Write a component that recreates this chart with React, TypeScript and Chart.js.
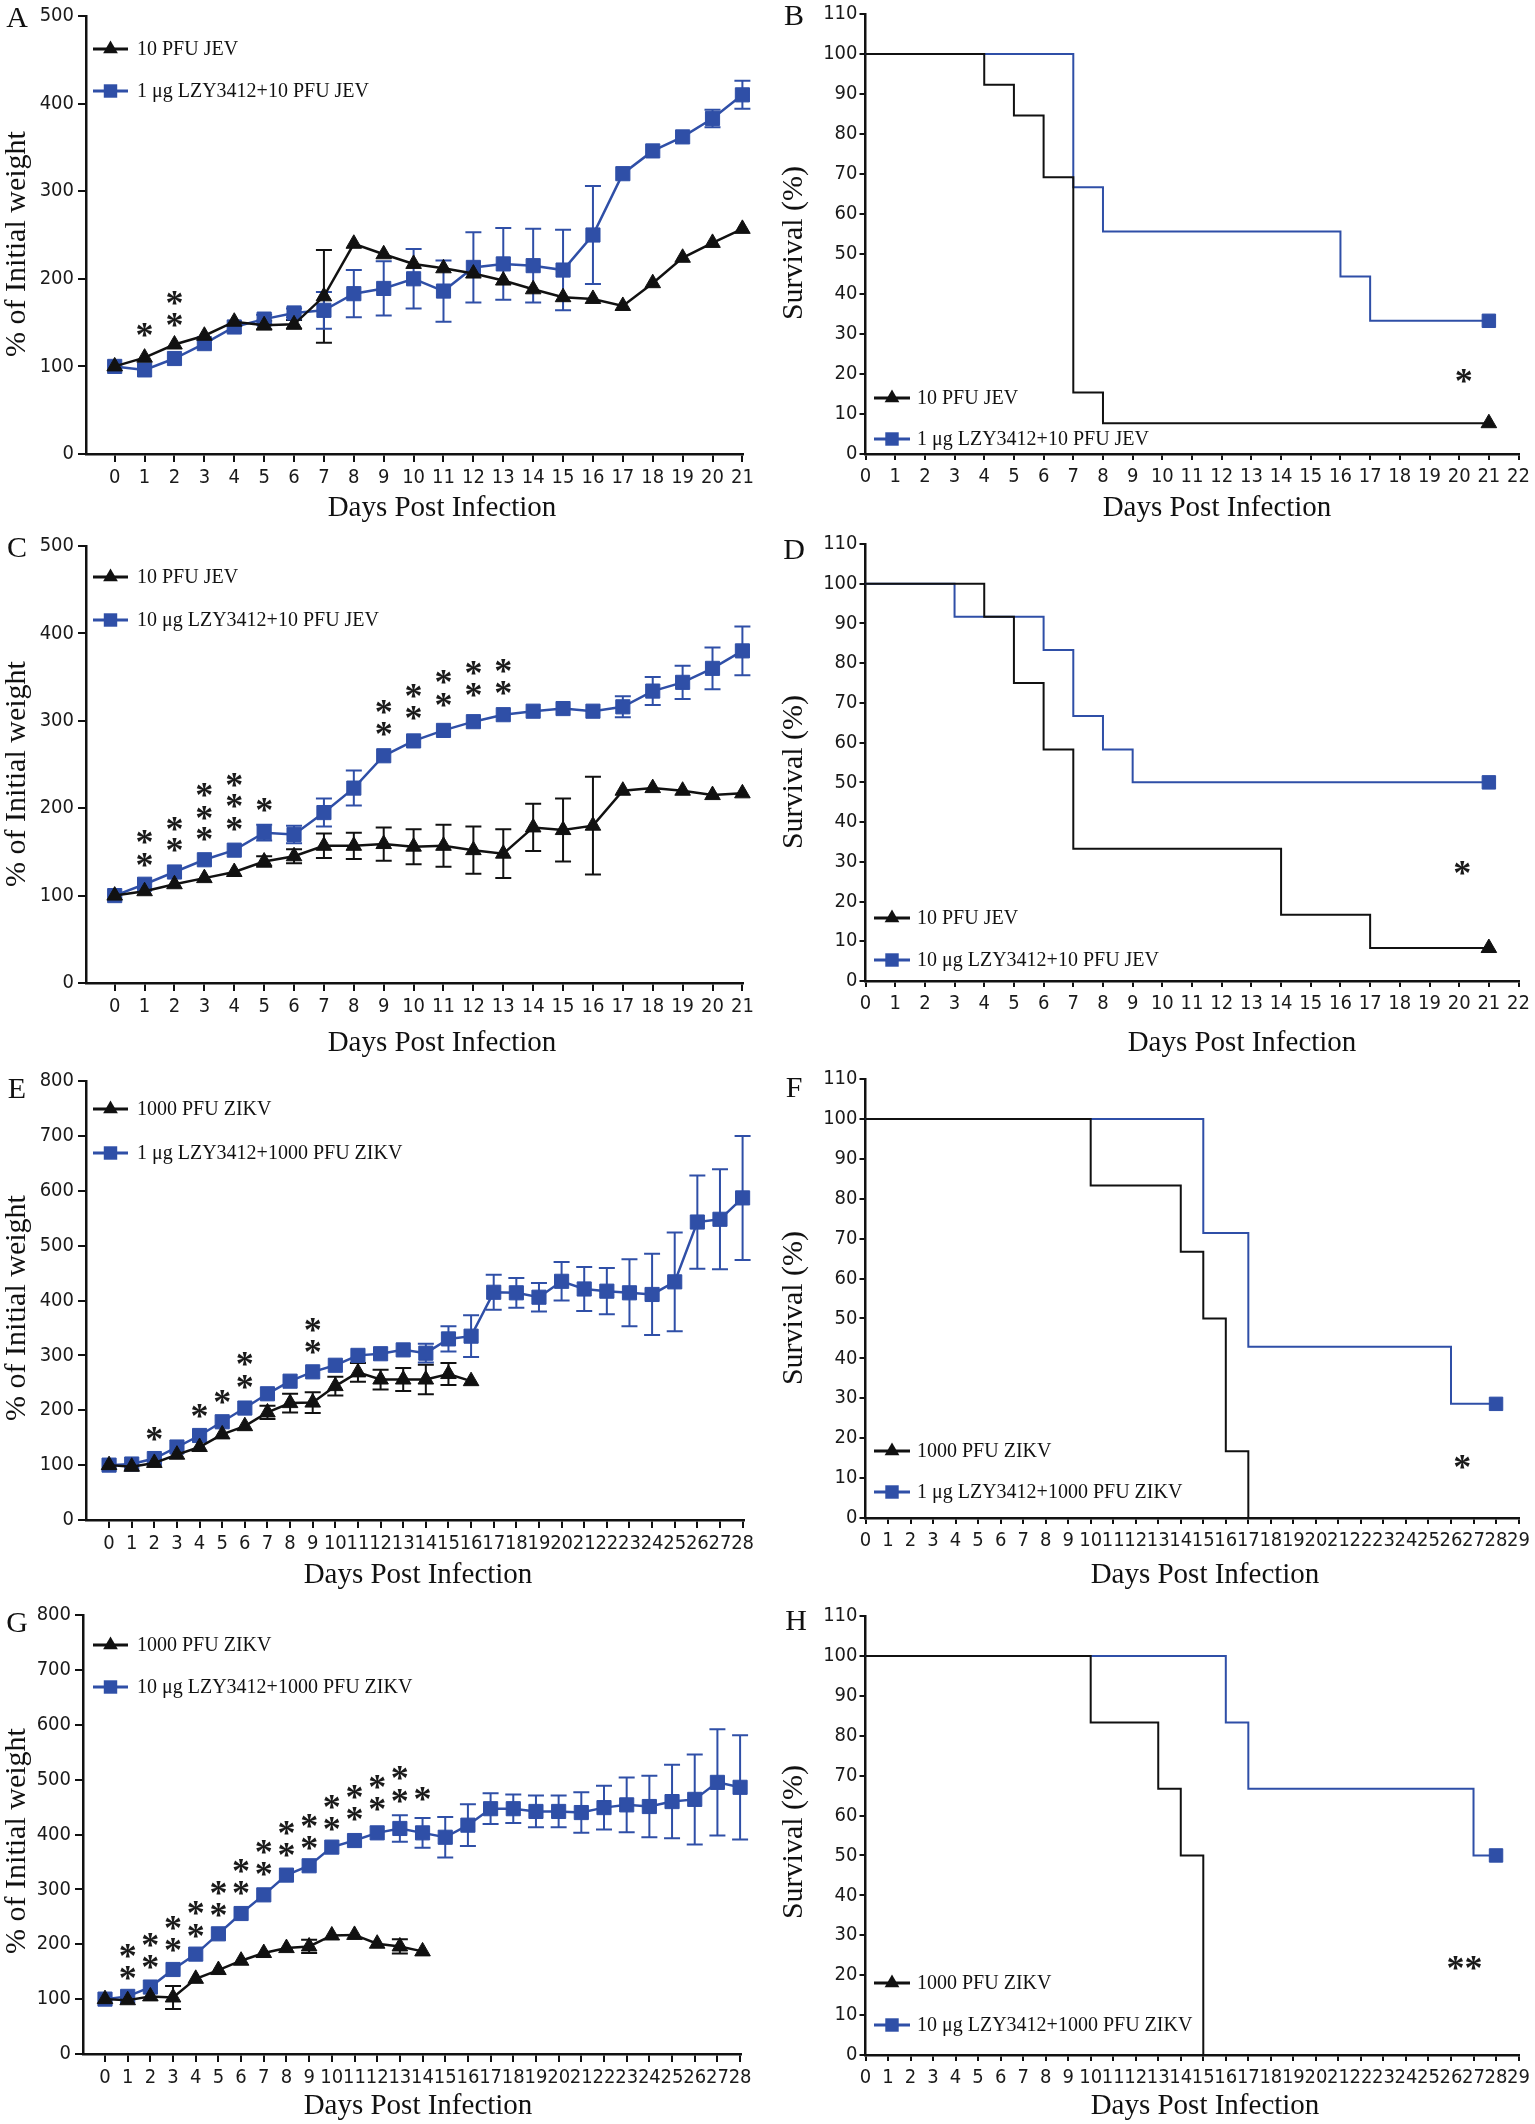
import React, { useEffect, useRef } from 'react';
import { Chart, registerables } from 'chart.js';

Chart.register(...registerables);

const BLACK = '#111111';
const BLUE = '#2f4fa7';
const SERIF = "'Liberation Serif', 'Times New Roman', serif";
const NARROW = "'Liberation Sans Narrow', 'Arial Narrow', 'DejaVu Sans Condensed', 'Liberation Sans', sans-serif";

// ---------- categories / tick labels ----------
const daysJEV = [0, 1, 2, 3, 4, 5, 6, 7, 8, 9, 10, 11, 12, 13, 14, 15, 16, 17, 18, 19, 20, 21];
const daysZIKV = [0, 1, 2, 3, 4, 5, 6, 7, 8, 9, 10, 11, 12, 13, 14, 15, 16, 17, 18, 19, 20, 21, 22, 23, 24, 25, 26, 27, 28];
const survTicksJEV = [0, 1, 2, 3, 4, 5, 6, 7, 8, 9, 10, 11, 12, 13, 14, 15, 16, 17, 18, 19, 20, 21, 22];
const survTicksZIKV = [0, 1, 2, 3, 4, 5, 6, 7, 8, 9, 10, 11, 12, 13, 14, 15, 16, 17, 18, 19, 20, 21, 22, 23, 24, 25, 26, 27, 28, 29];

// ---------- legend labels ----------
const lblJEV = '10 PFU JEV';
const lblJEV1 = '1 μg LZY3412+10 PFU JEV';
const lblJEV10 = '10 μg LZY3412+10 PFU JEV';
const lblZIKV = '1000 PFU ZIKV';
const lblZIKV1 = '1 μg LZY3412+1000 PFU ZIKV';
const lblZIKV10 = '10 μg LZY3412+1000 PFU ZIKV';

// ---------- Panel A : weight, 1 µg, JEV ----------
const weightA_jev = [100, 110, 125, 135, 151, 147, 148, 180, 240, 228, 217, 212, 206, 198, 188, 179, 177, 169, 195, 224, 241, 257];
const errA_jev = [null, null, null, null, null, 5, 5, 53, null, null, null, null, null, null, null, null, null, null, null, null, null, null];
const weightA_lzy = [100, 96, 109, 126, 145, 154, 161, 164, 183, 189, 200, 186, 213, 217, 215, 210, 250, 320, 346, 362, 383, 410];
const errA_lzy = [null, null, null, null, null, 5, 5, 21, 27, 31, 34, 35, 40, 41, 42, 46, 56, null, null, null, 10, 16];
const sigA = [[1, 141], [2, 153], [2, 178]];

// ---------- Panel B : survival, 1 µg, JEV ----------
const survB_jev_t = [0, 4, 5, 6, 7, 8, 21];
const survB_jev = [100, 92.3, 84.6, 69.2, 15.4, 7.7, 7.7];
const survB_lzy_t = [0, 7, 8, 16, 17, 21];
const survB_lzy = [100, 66.7, 55.6, 44.4, 33.3, 33.3];
const sigB = [[20.15, 19.6]];

// ---------- Panel C : weight, 10 µg, JEV ----------
const weightC_jev = [100, 105, 113, 120, 127, 139, 145, 157, 157, 159, 156, 157, 152, 148, 178, 175, 180, 220, 223, 220, 215, 217];
const errC_jev = [null, null, null, null, null, 6, 8, 14, 15, 19, 20, 24, 27, 28, 27, 36, 56, null, null, null, null, null];
const weightC_lzy = [100, 113, 127, 141, 152, 172, 170, 195, 223, 260, 277, 289, 299, 307, 311, 314, 311, 316, 334, 344, 360, 380];
const errC_lzy = [null, null, null, null, null, 9, 10, 16, 20, null, null, null, null, null, null, null, null, 12, 16, 19, 24, 28];
const sigC = [[1, 141], [1, 167], [2, 158], [2, 182], [3, 170], [3, 194], [3, 221], [4, 182], [4, 208], [4, 232], [5, 204],
  [9, 291], [9, 316], [10, 309], [10, 334], [11, 324], [11, 350], [12, 335], [12, 360], [13, 337], [13, 363]];

// ---------- Panel D : survival, 10 µg, JEV ----------
const survD_jev_t = [0, 4, 5, 6, 7, 14, 17, 21];
const survD_jev = [100, 91.7, 75, 58.3, 33.3, 16.7, 8.3, 8.3];
const survD_lzy_t = [0, 3, 6, 7, 8, 9, 21];
const survD_lzy = [100, 91.7, 83.3, 66.7, 58.3, 50, 50];
const sigD = [[20.1, 28.4]];

// ---------- Panel E : weight, 1 µg, ZIKV ----------
const weightE_zikv = [100, 97, 104, 119, 133, 156, 171, 196, 213, 214, 244, 269, 256, 256, 256, 266, 253];
const errE_zikv = [null, null, null, null, null, null, null, 12, 17, 19, 17, 17, 18, 21, 27, 20, null];
const weightE_lzy = [100, 102, 112, 133, 154, 179, 204, 230, 253, 270, 282, 300, 303, 310, 304, 330, 335, 415, 414, 406, 435, 421, 417, 414, 411, 434, 543, 548, 587];
const errE_lzy = [null, null, null, null, null, null, null, null, null, null, null, null, null, null, 17, 23, 38, 32, 27, 26, 35, 40, 42, 61, 74, 90, 85, 91, 113];
const sigE = [[2, 157], [4, 198], [5, 224], [6, 251], [6, 293], [9, 316], [9, 356]];

// ---------- Panel F : survival, 1 µg, ZIKV ----------
const survF_zikv_t = [0, 10, 14, 15, 16, 17];
const survF_zikv = [100, 83.3, 66.7, 50, 16.7, 0];
const survF_lzy_t = [0, 15, 17, 26, 28];
const survF_lzy = [100, 71.4, 42.9, 28.6, 28.6];
const sigF = [[26.5, 14]];

// ---------- Panel G : weight, 10 µg, ZIKV ----------
const weightG_zikv = [100, 98, 105, 103, 137, 153, 170, 184, 193, 196, 216, 217, 201, 196, 187];
const errG_zikv = [null, null, null, 21, null, null, null, null, null, 12, null, null, null, 13, null];
const weightG_lzy = [100, 105, 122, 154, 182, 219, 256, 290, 326, 343, 377, 389, 403, 411, 403, 395, 417, 447, 447, 442, 442, 440, 449, 454, 451, 460, 464, 495, 486];
const errG_lzy = [null, null, null, null, null, null, null, null, null, null, null, null, null, 24, 27, 37, 38, 28, 26, 29, 29, 37, 40, 50, 56, 67, 82, 97, 95];
const sigG = [[1, 148], [1, 188], [2, 167], [2, 207], [3, 199], [3, 239], [4, 225], [4, 266], [5, 263], [5, 303], [6, 303], [6, 343],
  [7, 337], [7, 377], [8, 372], [8, 412], [9, 384], [9, 424], [10, 419], [10, 460], [11, 438], [11, 477], [12, 455], [12, 495],
  [13, 471], [13, 512], [14, 473]];

// ---------- Panel H : survival, 10 µg, ZIKV ----------
const survH_zikv_t = [0, 10, 13, 14, 15];
const survH_zikv = [100, 83.3, 66.7, 50, 0];
const survH_lzy_t = [0, 16, 17, 27, 28];
const survH_lzy = [100, 83.3, 66.7, 50, 50];
const sigH = [[26.6, 23]];

// ---------- types ----------
type Series = {
  label: string;
  color: string;
  marker: 'triangle' | 'rect';
  x: number[];
  y: number[];
  err?: (number | null)[];
  stepped?: boolean;
  endMarker?: boolean;
  lineWidth: number;
  radius: number;
};
type PanelCfg = {
  canvas: { x: number; y: number; w: number; h: number };
  area: { l: number; t: number; r: number; b: number };
  xMin: number; xMax: number; xTicks: number[];
  yMax: number; yStep: number;
  tickLen: number; yPad: number; xPad: number;
  series: Series[];
  letter: { text: string; x: number; y: number };
  yTitle: { text: string; x: number; y: number };
  xTitle: { text: string; x: number; y: number };
  legend: { rows: number[]; lx0: number; lx1: number; tx: number };
  stars: number[][];
  starText: string;
};

function weightSeries(lblA: string, xa: number[], ya: number[], ea: (number | null)[], lblB: string, yb: number[], eb: (number | null)[], xb: number[]): Series[] {
  return [
    { label: lblA, color: BLACK, marker: 'triangle', x: xa.slice(0, ya.length), y: ya, err: ea, lineWidth: 2.5, radius: 9 },
    { label: lblB, color: BLUE, marker: 'rect', x: xb.slice(0, yb.length), y: yb, err: eb, lineWidth: 2.5, radius: 10 },
  ];
}
function survSeries(lblA: string, ta: number[], sa: number[], endA: boolean, lblB: string, tb: number[], sb: number[]): Series[] {
  return [
    { label: lblA, color: BLACK, marker: 'triangle', x: ta, y: sa, stepped: true, endMarker: endA, lineWidth: 2, radius: 9 },
    { label: lblB, color: BLUE, marker: 'rect', x: tb, y: sb, stepped: true, endMarker: true, lineWidth: 2, radius: 9.5 },
  ];
}

const W_TITLE = '% of Initial weight';
const S_TITLE = 'Survival (%)';
const X_TITLE = 'Days Post Infection';
const leftLegend = (r1: number, r2: number) => ({ rows: [r1, r2], lx0: 93, lx1: 128, tx: 137 });
const rightLegend = (r1: number, r2: number) => ({ rows: [r1, r2], lx0: 874, lx1: 910, tx: 917 });

const panels: PanelCfg[] = [
  {
    canvas: { x: 0, y: 0, w: 767, h: 530 }, area: { l: 86, t: 14, r: 743, b: 454 },
    xMin: -0.96, xMax: 21.02, xTicks: daysJEV, yMax: 500, yStep: 100, tickLen: 8, yPad: 4, xPad: 4,
    series: weightSeries(lblJEV, daysJEV, weightA_jev, errA_jev, lblJEV1, weightA_lzy, errA_lzy, daysJEV),
    letter: { text: 'A', x: 17, y: 19 }, yTitle: { text: W_TITLE, x: 17, y: 244 }, xTitle: { text: X_TITLE, x: 442, y: 508 },
    legend: leftLegend(49, 91), stars: sigA, starText: '*',
  },
  {
    canvas: { x: 767, y: 0, w: 768, h: 530 }, area: { l: 865.5, t: 14, r: 1522.7, b: 454 },
    xMin: 0, xMax: 22, xTicks: survTicksJEV, yMax: 110, yStep: 10, tickLen: 6, yPad: 2, xPad: 5,
    series: survSeries(lblJEV, survB_jev_t, survB_jev, true, lblJEV1, survB_lzy_t, survB_lzy),
    letter: { text: 'B', x: 794, y: 17 }, yTitle: { text: S_TITLE, x: 794, y: 243 }, xTitle: { text: X_TITLE, x: 1217, y: 508 },
    legend: rightLegend(398, 439), stars: sigB, starText: '*',
  },
  {
    canvas: { x: 0, y: 530, w: 767, h: 535 }, area: { l: 86, t: 544, r: 743, b: 983 },
    xMin: -0.96, xMax: 21.02, xTicks: daysJEV, yMax: 500, yStep: 100, tickLen: 8, yPad: 4, xPad: 4,
    series: weightSeries(lblJEV, daysJEV, weightC_jev, errC_jev, lblJEV10, weightC_lzy, errC_lzy, daysJEV),
    letter: { text: 'C', x: 17, y: 549 }, yTitle: { text: W_TITLE, x: 17, y: 774 }, xTitle: { text: X_TITLE, x: 442, y: 1043 },
    legend: leftLegend(577, 620), stars: sigC, starText: '*',
  },
  {
    canvas: { x: 767, y: 530, w: 768, h: 535 }, area: { l: 865.5, t: 542, r: 1522.7, b: 981 },
    xMin: 0, xMax: 22, xTicks: survTicksJEV, yMax: 110, yStep: 10, tickLen: 6, yPad: 2, xPad: 5,
    series: survSeries(lblJEV, survD_jev_t, survD_jev, true, lblJEV10, survD_lzy_t, survD_lzy),
    letter: { text: 'D', x: 794, y: 551 }, yTitle: { text: S_TITLE, x: 794, y: 772 }, xTitle: { text: X_TITLE, x: 1242, y: 1043 },
    legend: rightLegend(918, 960), stars: sigD, starText: '*',
  },
  {
    canvas: { x: 0, y: 1065, w: 767, h: 530 }, area: { l: 86, t: 1080, r: 743.5, b: 1520 },
    xMin: -1.02, xMax: 28.04, xTicks: daysZIKV, yMax: 800, yStep: 100, tickLen: 8, yPad: 4, xPad: 4,
    series: weightSeries(lblZIKV, daysZIKV, weightE_zikv, errE_zikv, lblZIKV1, weightE_lzy, errE_lzy, daysZIKV),
    letter: { text: 'E', x: 17, y: 1090 }, yTitle: { text: W_TITLE, x: 17, y: 1308 }, xTitle: { text: X_TITLE, x: 418, y: 1575 },
    legend: leftLegend(1109, 1153), stars: sigE, starText: '*',
  },
  {
    canvas: { x: 767, y: 1065, w: 768, h: 530 }, area: { l: 865.5, t: 1079, r: 1522.7, b: 1518 },
    xMin: 0, xMax: 29, xTicks: survTicksZIKV, yMax: 110, yStep: 10, tickLen: 6, yPad: 2, xPad: 5,
    series: survSeries(lblZIKV, survF_zikv_t, survF_zikv, false, lblZIKV1, survF_lzy_t, survF_lzy),
    letter: { text: 'F', x: 794, y: 1089 }, yTitle: { text: S_TITLE, x: 794, y: 1308 }, xTitle: { text: X_TITLE, x: 1205, y: 1575 },
    legend: rightLegend(1451, 1492), stars: sigF, starText: '*',
  },
  {
    canvas: { x: 0, y: 1595, w: 767, h: 529 }, area: { l: 83, t: 1615, r: 741, b: 2054 },
    xMin: -0.97, xMax: 28.04, xTicks: daysZIKV, yMax: 800, yStep: 100, tickLen: 8, yPad: 4, xPad: 4,
    series: weightSeries(lblZIKV, daysZIKV, weightG_zikv, errG_zikv, lblZIKV10, weightG_lzy, errG_lzy, daysZIKV),
    letter: { text: 'G', x: 17, y: 1624 }, yTitle: { text: W_TITLE, x: 17, y: 1841 }, xTitle: { text: X_TITLE, x: 418, y: 2106 },
    legend: leftLegend(1645, 1687), stars: sigG, starText: '*',
  },
  {
    canvas: { x: 767, y: 1595, w: 768, h: 529 }, area: { l: 865.5, t: 1616, r: 1522.7, b: 2055 },
    xMin: 0, xMax: 29, xTicks: survTicksZIKV, yMax: 110, yStep: 10, tickLen: 6, yPad: 2, xPad: 5,
    series: survSeries(lblZIKV, survH_zikv_t, survH_zikv, false, lblZIKV10, survH_lzy_t, survH_lzy),
    letter: { text: 'H', x: 796, y: 1622 }, yTitle: { text: S_TITLE, x: 794, y: 1842 }, xTitle: { text: X_TITLE, x: 1205, y: 2106 },
    legend: rightLegend(1983, 2025), stars: sigH, starText: '**',
  },
];

function drawMarker(ctx: CanvasRenderingContext2D, kind: string, x: number, y: number, r: number, color: string) {
  ctx.save();
  ctx.fillStyle = color;
  ctx.beginPath();
  if (kind === 'triangle') {
    ctx.moveTo(x, y - r);
    ctx.lineTo(x + r * 0.866, y + r * 0.5);
    ctx.lineTo(x - r * 0.866, y + r * 0.5);
    ctx.closePath();
  } else {
    const s = r * Math.SQRT1_2;
    ctx.rect(x - s, y - s, 2 * s, 2 * s);
  }
  ctx.fill();
  ctx.restore();
}

function buildConfig(cfg: PanelCfg): any {
  const cv = cfg.canvas;
  const area = cfg.area;
  const lx = (p: number) => p - cv.x;
  const ly = (p: number) => p - cv.y;

  const decor = {
    id: 'decor',
    beforeDatasetsDraw(chart: any) {
      const ctx: CanvasRenderingContext2D = chart.ctx;
      const xs = chart.scales.x;
      const ys = chart.scales.y;
      ctx.save();
      cfg.series.forEach((s) => {
        if (!s.err) return;
        ctx.strokeStyle = s.color;
        ctx.lineWidth = 2;
        s.err.forEach((e, i) => {
          if (e == null || i >= s.y.length) return;
          const px = xs.getPixelForValue(s.x[i]);
          const pt = ys.getPixelForValue(s.y[i] + e);
          const pb = ys.getPixelForValue(s.y[i] - e);
          ctx.beginPath();
          ctx.moveTo(px, pt); ctx.lineTo(px, pb);
          ctx.moveTo(px - 8, pt); ctx.lineTo(px + 8, pt);
          ctx.moveTo(px - 8, pb); ctx.lineTo(px + 8, pb);
          ctx.stroke();
        });
      });
      ctx.restore();
    },
    afterDraw(chart: any) {
      const ctx: CanvasRenderingContext2D = chart.ctx;
      const xs = chart.scales.x;
      const ys = chart.scales.y;
      ctx.save();
      ctx.fillStyle = '#111';
      ctx.textAlign = 'center';
      ctx.textBaseline = 'middle';
      // panel letter
      ctx.font = `30px ${SERIF}`;
      ctx.fillText(cfg.letter.text, lx(cfg.letter.x), ly(cfg.letter.y));
      // x title
      ctx.font = `29px ${SERIF}`;
      ctx.fillText(cfg.xTitle.text, lx(cfg.xTitle.x), ly(cfg.xTitle.y));
      // y title
      ctx.save();
      ctx.translate(lx(cfg.yTitle.x), ly(cfg.yTitle.y));
      ctx.rotate(-Math.PI / 2);
      ctx.font = `30px ${SERIF}`;
      ctx.fillText(cfg.yTitle.text, 0, 0);
      ctx.restore();
      // legend
      cfg.series.forEach((s, i) => {
        const y = ly(cfg.legend.rows[i]);
        ctx.strokeStyle = s.color;
        ctx.lineWidth = 3;
        ctx.beginPath();
        ctx.moveTo(lx(cfg.legend.lx0), y);
        ctx.lineTo(lx(cfg.legend.lx1), y);
        ctx.stroke();
        drawMarker(ctx, s.marker, lx((cfg.legend.lx0 + cfg.legend.lx1) / 2), y, s.marker === 'triangle' ? 8.5 : 9.5, s.color);
        ctx.fillStyle = '#111';
        ctx.textAlign = 'left';
        ctx.font = `20px ${SERIF}`;
        ctx.fillText(s.label, lx(cfg.legend.tx), y + 1);
      });
      // significance stars
      ctx.fillStyle = '#1a1a1a';
      ctx.textAlign = 'center';
      ctx.textBaseline = 'alphabetic';
      ctx.font = `bold 36px ${SERIF}`;
      const m = ctx.measureText(cfg.starText);
      const asc = m.actualBoundingBoxAscent || 20;
      const desc = m.actualBoundingBoxDescent || -8;
      cfg.stars.forEach(([sx, sy]) => {
        const px = xs.getPixelForValue(sx);
        const py = ys.getPixelForValue(sy);
        ctx.fillText(cfg.starText, px, py + (asc - desc) / 2);
      });
      ctx.restore();
    },
  };

  const datasets = cfg.series.map((s) => ({
    label: s.label,
    data: s.x.map((xv, i) => ({ x: xv, y: s.y[i] })),
    borderColor: s.color,
    backgroundColor: s.color,
    borderWidth: s.lineWidth,
    pointStyle: s.marker,
    pointRadius: s.stepped ? s.x.map((_, i) => (i === s.x.length - 1 && s.endMarker ? s.radius : 0)) : s.radius,
    pointBorderWidth: 1,
    pointBorderColor: s.color,
    pointBackgroundColor: s.color,
    stepped: s.stepped ? 'before' : false,
    tension: 0,
    fill: false,
    clip: false,
  }));

  const gridOpts = { display: true, drawOnChartArea: false, drawTicks: true, tickLength: cfg.tickLen, color: '#111', lineWidth: 2 };
  const borderOpts = { display: true, color: '#111', width: 2.5 };
  const tickFont = { family: NARROW, size: 20 };

  return {
    type: 'line',
    data: { datasets },
    options: {
      responsive: false,
      animation: false,
      events: [],
      layout: { padding: { left: 0, top: area.t - cv.y, right: cv.x + cv.w - area.r, bottom: 0 } },
      plugins: { legend: { display: false }, tooltip: { enabled: false }, title: { display: false } },
      scales: {
        x: {
          type: 'linear',
          min: cfg.xMin,
          max: cfg.xMax,
          afterBuildTicks: (sc: any) => { sc.ticks = cfg.xTicks.map((v) => ({ value: v })); },
          afterFit: (sc: any) => { sc.height = cv.y + cv.h - area.b; },
          grid: gridOpts,
          border: borderOpts,
          ticks: { autoSkip: false, maxRotation: 0, minRotation: 0, padding: cfg.xPad, font: tickFont, color: '#1a1a1a', callback: (v: any) => String(v) },
        },
        y: {
          type: 'linear',
          min: 0,
          max: cfg.yMax,
          afterFit: (sc: any) => { sc.width = area.l - cv.x; },
          grid: gridOpts,
          border: borderOpts,
          ticks: { stepSize: cfg.yStep, padding: cfg.yPad, font: tickFont, color: '#1a1a1a', callback: (v: any) => String(v) },
        },
      },
    },
    plugins: [decor],
  };
}

function Panel({ cfg }: { cfg: PanelCfg }) {
  const ref = useRef<HTMLCanvasElement>(null);
  useEffect(() => {
    const c = ref.current;
    if (!c) return;
    const chart = new Chart(c, buildConfig(cfg));
    return () => chart.destroy();
  }, [cfg]);
  const { x, y, w, h } = cfg.canvas;
  return (
    <canvas
      ref={ref}
      width={w}
      height={h}
      style={{ position: 'absolute', left: x, top: y, width: w, height: h }}
    />
  );
}

export default function App() {
  return (
    <div style={{ position: 'absolute', left: 0, top: 0, width: 1535, height: 2124, background: '#ffffff', overflow: 'hidden' }}>
      {panels.map((p, i) => (
        <Panel key={i} cfg={p} />
      ))}
    </div>
  );
}
